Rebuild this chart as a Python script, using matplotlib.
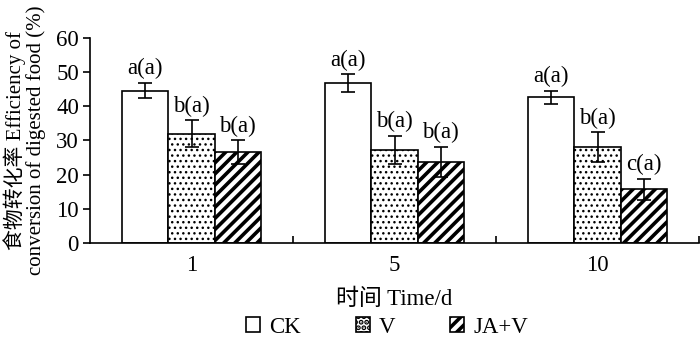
import matplotlib
matplotlib.use("Agg")
import matplotlib.pyplot as plt
import numpy as np

plt.rcParams['font.family'] = ['Liberation Serif', 'Noto Sans CJK SC']

categories = ['1', '5', '10']
series = ['CK', 'V', 'JA+V']
ck = [44.6, 46.8, 42.6]
v = [32.0, 27.3, 28.0]
jav = [26.6, 23.8, 15.7]
ck_err = [2.3, 2.6, 2.0]
v_err = [4.0, 4.1, 4.4]
jav_err = [3.5, 4.4, 3.1]
ck_lab = ['a(a)', 'a(a)', 'a(a)']
v_lab = ['b(a)', 'b(a)', 'b(a)']
jav_lab = ['b(a)', 'b(a)', 'c(a)']

FS = 16.5
fig = plt.figure(figsize=(7.0, 3.42), dpi=100)
ax = fig.add_axes([0.1286, 0.2895, 0.870, 0.5995])

x = np.arange(len(categories))
w = 0.227
hatches = ['', '...', '///']
hlw = [1.0, 1.0, 2.6]
vals = [ck, v, jav]
errs = [ck_err, v_err, jav_err]
labs = [ck_lab, v_lab, jav_lab]
for i, (name, vv, ee, ll, h) in enumerate(zip(series, vals, errs, labs, hatches)):
    pos = x + (i - 1) * w
    plt.rcParams['hatch.linewidth'] = hlw[i]
    ax.bar(pos, vv, width=w, color='white', edgecolor='black', hatch=h,
           linewidth=1.2, label=name, zorder=2)
    ax.errorbar(pos, vv, yerr=ee, fmt='none', ecolor='black', elinewidth=1.2,
                capsize=5, capthick=1.2, zorder=3)
    for p, val, e, t in zip(pos, vv, ee, ll):
        ax.text(p, val + e + 1.0, t, ha='center', va='bottom', fontsize=FS)

ax.set_xlim(-0.5, 2.5)
ax.set_ylim(0, 60)
ax.set_yticks(np.arange(0, 61, 10))
ax.set_xticks(x)
ax.set_xticklabels(categories)
ax.set_xticks([0.5, 1.5, 2.5], minor=True)
ax.tick_params(axis='x', which='major', length=0, labelsize=FS, pad=9)
ax.tick_params(axis='x', which='minor', direction='in', length=5, width=1.2)
ax.tick_params(axis='y', direction='out', length=5, width=1.2, labelsize=FS, pad=3)
for s in ['top', 'right']:
    ax.spines[s].set_visible(False)
for s in ['left', 'bottom']:
    ax.spines[s].set_linewidth(1.2)

ax.set_xlabel('时间 Time/d', fontsize=FS, labelpad=9)
ax.set_ylabel('食物转化率 Efficiency of\nconversion of digested food (%)', fontsize=15,
              linespacing=1.05)
ax.yaxis.set_label_coords(-0.072, 0.5)

leg = fig.legend(loc='lower center', bbox_to_anchor=(0.553, -0.048), ncol=3, frameon=False,
                 fontsize=FS, handlelength=0.6, handleheight=0.6, columnspacing=2.4,
                 handletextpad=0.4)

fig.savefig('out.png', dpi=100)
